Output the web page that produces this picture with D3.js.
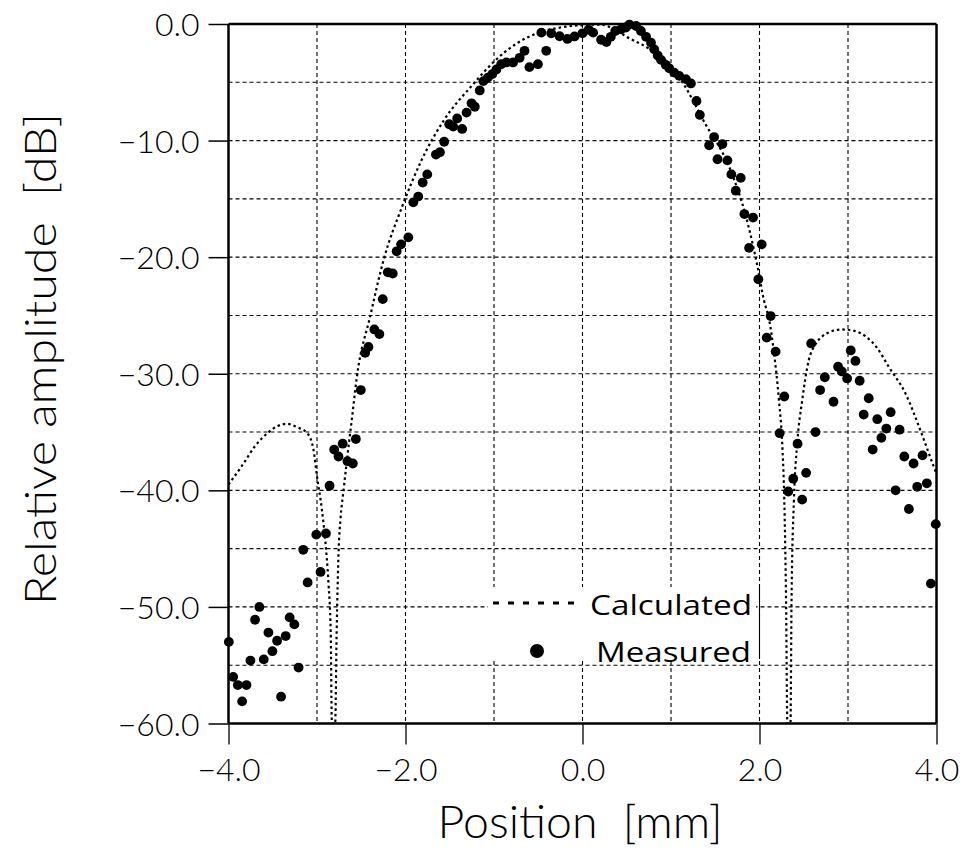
<!DOCTYPE html>
<html>
<head>
<meta charset="utf-8">
<script src="https://cdn.jsdelivr.net/npm/d3@7"></script>
<style>
  html, body { margin: 0; padding: 0; background: #fff; }
  svg { display: block; }
  .lbl { font-family: "Lato", "DejaVu Sans", sans-serif; font-weight: 300; fill: #000; }
  .leg { font-family: "Open Sans", "Noto Sans", sans-serif; fill: #000; }
</style>
</head>
<body>
<svg id="chart" width="971" height="861"></svg>
<script>
// ---- Data ----
const calcX = [-4.0, -3.83, -3.7, -3.56, -3.45, -3.34, -3.22, -3.11, -3.04, -3.0, -2.944, -2.907, -2.87, -2.845, -2.832,
  -2.795, -2.778, -2.755, -2.735, -2.7, -2.66, -2.6, -2.55, -2.4, -2.25, -2.04, -1.82, -1.57, -1.24, -1.01, -0.75, -0.5,
  -0.25, 0.0, 0.2, 0.35, 0.5, 0.75, 0.95, 1.13, 1.39, 1.66, 1.85, 1.98, 2.05, 2.11, 2.16, 2.22, 2.26, 2.28, 2.30, 2.315,
  2.35, 2.362, 2.389, 2.426, 2.482, 2.558, 2.63, 2.708, 2.80, 2.93, 3.06, 3.2, 3.33, 3.46, 3.65, 3.83, 3.97, 4.0];
const calcY = [-39.5, -37.7, -36.2, -35.1, -34.5, -34.3, -34.6, -35.1, -36.5, -38.8, -41.7, -44.3, -48.0, -52.2, -60,
  -60, -52.2, -45.0, -42.5, -40.0, -37.3, -33.5, -30.3, -25.1, -20.3, -15.7, -11.7, -8.3, -5.2, -3.3, -1.7, -0.75,
  -0.3, -0.1, -0.05, -0.4, -1.1, -2.1, -3.2, -5.0, -8.6, -12.3, -16.6, -20.9, -23.7, -25.4, -28.0, -32.3, -36.5, -40.8, -49.4, -60,
  -60, -49.4, -40.8, -36.0, -32.3, -28.8, -27.5, -26.8, -26.4, -26.2, -26.3, -26.8, -27.8, -29.4, -31.7, -35.1, -38.0, -38.6];

const measX = [-3.996, -3.947, -3.895, -3.846, -3.797, -3.752, -3.70, -3.651, -3.602, -3.549, -3.504, -3.451, -3.406,
  -3.354, -3.309, -3.256, -3.208, -3.155, -3.106, -3.008, -2.96, -2.899, -2.858, -2.806, -2.757, -2.71, -2.656, -2.595,
  -2.561, -2.505, -2.456, -2.419, -2.352, -2.295, -2.257, -2.2, -2.144, -2.1, -2.05, -1.968, -1.912, -1.856, -1.806,
  -1.754, -1.656, -1.611, -1.563, -1.506, -1.461, -1.416, -1.36, -1.31, -1.254, -1.217, -1.161, -1.12, -1.07, -1.02,
  -0.973, -0.919, -0.86, -0.785, -0.71, -0.655, -0.6, -0.504, -0.465, -0.41, -0.353, -0.259, -0.17, -0.09, 0.0, 0.07,
  0.12, 0.21, 0.27, 0.32, 0.37, 0.436, 0.49, 0.53, 0.605, 0.66, 0.718, 0.774, 0.81, 0.85, 0.887, 0.94, 0.98, 1.036,
  1.093, 1.168, 1.225, 1.288, 1.326, 1.431, 1.487, 1.525, 1.581, 1.637, 1.682, 1.732, 1.788, 1.829, 1.882, 1.927,
  1.987, 2.025, 2.081, 2.126, 2.182, 2.228, 2.28, 2.325, 2.381, 2.43, 2.482, 2.527, 2.584, 2.633, 2.685, 2.738,
  2.836, 2.888, 2.93, 2.99, 3.031, 3.084, 3.132, 3.177, 3.234, 3.279, 3.331, 3.377, 3.433, 3.482, 3.538, 3.583,
  3.636, 3.688, 3.741, 3.782, 3.842, 3.891, 3.936, 3.992];
const measY = [-53.0, -56.0, -56.7, -58.1, -56.7, -54.6, -51.1, -50.0, -54.5, -52.2, -53.8, -52.9, -57.7,
  -52.5, -50.9, -51.5, -55.2, -45.1, -47.9, -43.8, -47.0, -43.7, -39.6, -36.5, -37.1, -36.0, -37.5, -37.7,
  -35.6, -31.4, -28.2, -27.7, -26.2, -26.6, -23.6, -21.3, -21.4, -19.5, -18.9, -18.3, -15.3, -14.8, -13.6,
  -12.9, -11.2, -11.0, -10.1, -8.6, -8.8, -8.1, -9.0, -7.6, -6.8, -7.1, -5.7, -4.9, -4.6, -4.3,
  -3.9, -3.45, -3.3, -3.3, -2.9, -2.3, -3.7, -3.45, -0.74, -2.3, -0.8, -1.05, -1.28, -1.07, -0.8, -0.5,
  -0.74, -1.35, -1.55, -1.1, -0.6, -0.45, -0.3, -0.05, -0.17, -0.6, -1.1, -1.6, -2.17, -2.7, -3.08, -3.5, -3.8, -4.17,
  -4.45, -4.73, -5.1, -6.6, -7.8, -10.4, -9.7, -11.6, -10.3, -11.7, -12.9, -14.3, -13.2, -16.3, -19.2, -16.6,
  -21.9, -18.9, -26.9, -25.05, -28.1, -35.1, -31.95, -40.1, -39.0, -36.0, -40.8, -38.5, -27.4, -35.0, -31.4, -30.3,
  -32.4, -29.4, -29.8, -30.4, -28.0, -28.9, -30.6, -33.5, -32.1, -36.5, -33.9, -35.5, -34.7, -33.3, -40.0, -34.8,
  -37.1, -41.6, -37.7, -39.7, -37.0, -39.4, -48.0, -42.9];

const yTickVals = [0, -10, -20, -30, -40, -50, -60];
const yTickLabels = ["0.0", "\u221210.0", "\u221220.0", "\u221230.0", "\u221240.0", "\u221250.0", "\u221260.0"];
const xTickVals = [-4, -2, 0, 2, 4];
const xTickLabels = ["\u22124.0", "\u22122.0", "0.0", "2.0", "4.0"];
const xGridVals = [-3, -2, -1, 0, 1, 2, 3];
const yGridVals = [-5, -10, -15, -20, -25, -30, -35, -40, -45, -50, -55];
const seriesNames = ["Calculated", "Measured"];

// ---- Layout ----
const L = 228.5, R = 936.5, T = 24, B = 723.5;
const svg = d3.select("#chart");
const x = d3.scaleLinear().domain([-4, 4]).range([L, R]);
const y = d3.scaleLinear().domain([-60, 0]).range([B, T]);

// grid
const grid = svg.append("g").attr("stroke", "#000").attr("stroke-width", 1.1).attr("stroke-dasharray", "4,3").attr("fill", "none");
grid.selectAll("line.v").data(xGridVals).join("line")
  .attr("x1", d => x(d)).attr("x2", d => x(d)).attr("y1", T).attr("y2", B);
grid.selectAll("line.h").data(yGridVals).join("line")
  .attr("x1", L).attr("x2", R).attr("y1", d => y(d)).attr("y2", d => y(d));

// legend background (hides grid behind the legend)
svg.append("rect").attr("x", 488).attr("y", 587).attr("width", 268).attr("height", 72).attr("fill", "#fff");
// redraw the x=2 grid line that stays visible in the reference
svg.append("line").attr("x1", x(2)).attr("x2", x(2)).attr("y1", 587).attr("y2", 659)
  .attr("stroke", "#000").attr("stroke-width", 1.1).attr("stroke-dasharray", "4,3");

// calculated curve (clipped to plot)
svg.append("clipPath").attr("id", "clip").append("rect").attr("x", L).attr("y", T).attr("width", R - L).attr("height", B - T);
const calc = calcX.map((v, i) => [v, calcY[i]]);
svg.append("path").datum(calc).attr("clip-path", "url(#clip)")
  .attr("fill", "none").attr("stroke", "#000").attr("stroke-width", 2.2).attr("stroke-dasharray", "2.5,3")
  .attr("d", d3.line().x(d => x(d[0])).y(d => y(d[1])).curve(d3.curveMonotoneX));

// measured points
const meas = measX.map((v, i) => [v, measY[i]]);
svg.append("g").selectAll("circle").data(meas).join("circle")
  .attr("cx", d => x(d[0])).attr("cy", d => y(d[1])).attr("r", 4.9).attr("fill", "#000");

// axes
const yAxis = d3.axisLeft(y).tickValues(yTickVals).tickFormat((d, i) => yTickLabels[i]).tickSize(20).tickPadding(9);
const gy = svg.append("g").attr("transform", `translate(${L},0)`).call(yAxis);
gy.selectAll(".tick line").attr("stroke-width", 1.5);
gy.selectAll(".tick text").attr("class", "lbl").attr("font-size", 32).attr("dy", "0.36em");

const xAxis = d3.axisBottom(x).tickValues(xTickVals).tickFormat((d, i) => xTickLabels[i]).tickSize(21).tickPadding(14);
const gx = svg.append("g").attr("transform", `translate(0,${B})`).call(xAxis);
gx.selectAll(".tick line").attr("stroke-width", 1.3);
gx.selectAll(".tick text").attr("class", "lbl").attr("font-size", 32);

gy.select(".domain").remove();
gx.select(".domain").remove();
const frame = svg.append("g").attr("stroke", "#000").attr("stroke-width", 2.5);
frame.append("line").attr("x1", L).attr("x2", R).attr("y1", T).attr("y2", T);
frame.append("line").attr("x1", R).attr("x2", R).attr("y1", T).attr("y2", B);
frame.append("line").attr("x1", L).attr("x2", L).attr("y1", T).attr("y2", B);
frame.append("line").attr("x1", L).attr("x2", R).attr("y1", B).attr("y2", B);

// axis titles
svg.append("text").attr("class", "lbl").attr("font-size", 46)
  .attr("text-anchor", "middle").attr("x", 580).attr("y", 838)
  .attr("textLength", 285).attr("lengthAdjust", "spacingAndGlyphs")
  .style("white-space", "pre").text("Position  [mm]");
svg.append("text").attr("class", "lbl").attr("font-size", 44)
  .attr("text-anchor", "middle").attr("transform", "translate(56,359) rotate(-90)")
  .attr("textLength", 492).attr("lengthAdjust", "spacingAndGlyphs")
  .style("white-space", "pre").text("Relative amplitude  [dB]");

// legend
svg.append("line").attr("x1", 493).attr("x2", 580).attr("y1", 603).attr("y2", 603)
  .attr("stroke", "#000").attr("stroke-width", 3).attr("stroke-dasharray", "6,9");
svg.append("text").attr("class", "leg").attr("font-size", 28).attr("x", 590).attr("y", 615)
  .attr("textLength", 162).attr("lengthAdjust", "spacingAndGlyphs").text(seriesNames[0]);
svg.append("circle").attr("cx", 537).attr("cy", 651).attr("r", 7).attr("fill", "#000");
svg.append("text").attr("class", "leg").attr("font-size", 28).attr("x", 596).attr("y", 662)
  .attr("textLength", 155).attr("lengthAdjust", "spacingAndGlyphs").text(seriesNames[1]);
</script>
</body>
</html>
